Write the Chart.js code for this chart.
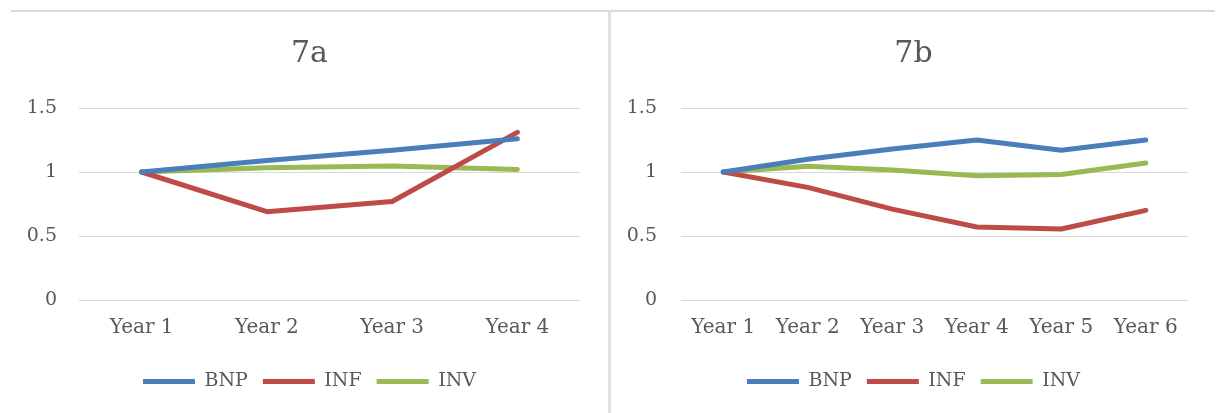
<!DOCTYPE html>
<html>
<head>
<meta charset="utf-8">
<script src="https://cdn.jsdelivr.net/npm/chart.js@4/dist/chart.umd.min.js"></script>
<style>
  html, body { margin: 0; padding: 0; background: #ffffff; }
  body { width: 1216px; height: 413px; position: relative; overflow: hidden; }
  .frame-top { position: absolute; left: 11px; top: 10px; width: 1204px; height: 2px; background: #d9d9d9; }
  .divider { position: absolute; left: 608px; top: 10px; width: 3px; height: 403px; background: #e0e0e0; }
  .panel { position: absolute; top: 13px; height: 400px; }
  #panelA { left: 11px; width: 597px; }
  #panelB { left: 611px; width: 605px; }
</style>
</head>
<body>
<div class="frame-top"></div>
<div class="divider"></div>
<div class="panel" id="panelA"><canvas id="chartA"></canvas></div>
<div class="panel" id="panelB"><canvas id="chartB"></canvas></div>
<script>
// Panel 7a
const years7a = ['Year 1', 'Year 2', 'Year 3', 'Year 4'];
const bnp7a = [1, 1.09, 1.17, 1.26];
const inf7a = [1, 0.69, 0.77, 1.31];
const inv7a = [1, 1.034, 1.047, 1.02];

// Panel 7b
const years7b = ['Year 1', 'Year 2', 'Year 3', 'Year 4', 'Year 5', 'Year 6'];
const bnp7b = [1, 1.10, 1.18, 1.25, 1.17, 1.25];
const inf7b = [1, 0.88, 0.71, 0.57, 0.555, 0.70];
const inv7b = [1, 1.045, 1.015, 0.97, 0.98, 1.07];

// Value axis ticks
const yTicks = [0, 0.5, 1, 1.5];

const seriesNames = ['BNP', 'INF', 'INV'];
const seriesColors = ['#4a7ebb', '#be4b48', '#98b954'];

const FONT = '"DejaVu Serif", Cambria, serif';
const TEXT = '#595959';
const GRID = '#d9d9d9';

// The value-axis labels hang out past the left edge of the axis box;
// widen the label clip region so they are not cut off.
const labelRoom = {
  id: 'labelRoom',
  afterLayout(chart) {
    chart.scales.y.left = 0;
  }
};

function makeDataset(label, data, color) {
  return {
    label: label,
    data: data,
    borderColor: color,
    backgroundColor: color,
    borderWidth: 5,
    borderCapStyle: 'round',
    borderJoinStyle: 'round',
    pointRadius: 0,
    pointHoverRadius: 0,
    pointStyle: 'line',
    tension: 0,
    fill: false
  };
}

// Equal left/right padding keeps title and legend centred on the panel;
// yAxisWidth + padding puts the plot's left edge in place.
function makeChart(canvasId, title, labels, series, yAxisWidth, yPad) {
  const ctx = document.getElementById(canvasId);
  return new Chart(ctx, {
    type: 'line',
    data: {
      labels: labels,
      datasets: series.map((s, i) => makeDataset(seriesNames[i], s, seriesColors[i]))
    },
    plugins: [labelRoom],
    options: {
      responsive: true,
      maintainAspectRatio: false,
      animation: false,
      events: [],
      layout: { padding: { top: 0, left: 28, right: 28, bottom: 12 } },
      plugins: {
        title: {
          display: true,
          text: title,
          color: TEXT,
          font: { family: FONT, size: 30, weight: 'normal' },
          padding: { top: 23, bottom: 36 }
        },
        legend: {
          display: true,
          position: 'bottom',
          labels: {
            color: TEXT,
            font: { family: FONT, size: 19 },
            usePointStyle: true,
            pointStyleWidth: 52,
            boxHeight: 5,
            padding: 15
          }
        },
        tooltip: { enabled: false }
      },
      scales: {
        x: {
          type: 'category',
          offset: true,
          grid: { display: false, drawTicks: false },
          border: { display: false },
          ticks: {
            color: TEXT,
            font: { family: FONT, size: 20 },
            padding: 16,
            autoSkip: false,
            maxRotation: 0,
            minRotation: 0
          },
          afterFit: (scale) => { scale.height = 57; }
        },
        y: {
          min: 0,
          max: 1.5,
          afterBuildTicks: (scale) => { scale.ticks = yTicks.map(v => ({ value: v })); },
          grid: { color: GRID, lineWidth: 1, drawTicks: false },
          border: { display: false },
          ticks: {
            color: TEXT,
            font: { family: FONT, size: 19 },
            padding: yPad,
            callback: (v) => String(v)
          },
          afterFit: (scale) => { scale.width = yAxisWidth; }
        }
      }
    }
  });
}

makeChart('chartA', '7a', years7a, [bnp7a, inf7a, inv7a], 40, 22);
makeChart('chartB', '7b', years7b, [bnp7b, inf7b, inv7b], 42, 24);
</script>
</body>
</html>
